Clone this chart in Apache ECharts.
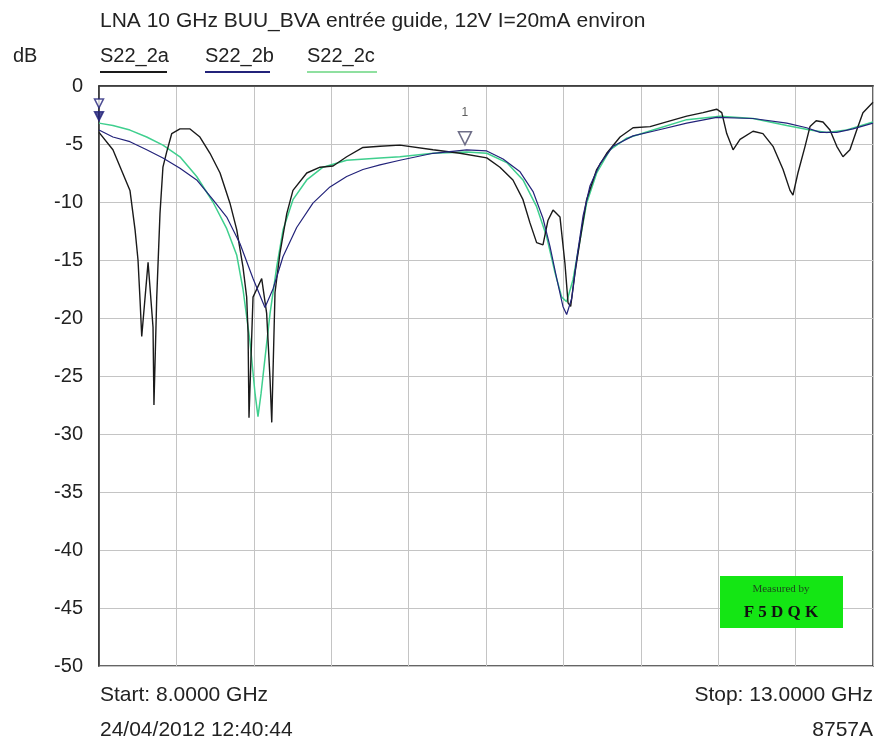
<!DOCTYPE html>
<html><head><meta charset="utf-8">
<script src="https://cdn.jsdelivr.net/npm/echarts@6/dist/echarts.min.js"></script>
<style>html,body{margin:0;padding:0;background:#fff}#c{width:876px;height:742px}</style>
</head><body><div id="c"></div>
<script>
// ---- data (GHz, dB) ----
const seriesNames = ['S22_2a', 'S22_2b', 'S22_2c'];
const yTicks = [0, -5, -10, -15, -20, -25, -30, -35, -40, -45, -50];

const freqA = [8.000,8.090,8.200,8.233,8.252,8.265,8.276,8.317,8.349,8.355,8.373,8.394,8.413,8.437,8.470,8.523,8.588,8.652,8.717,8.782,8.846,8.890,8.930,8.954,8.963,8.969,8.995,9.051,9.083,9.105,9.116,9.137,9.169,9.213,9.253,9.342,9.428,9.512,9.600,9.705,9.815,9.944,10.158,10.332,10.505,10.590,10.674,10.739,10.784,10.827,10.868,10.900,10.933,10.978,11.010,11.030,11.047,11.075,11.118,11.150,11.215,11.280,11.366,11.450,11.560,11.689,11.797,11.902,11.990,12.023,12.055,12.096,12.141,12.225,12.289,12.354,12.419,12.464,12.483,12.515,12.561,12.593,12.633,12.677,12.722,12.766,12.806,12.851,12.895,12.935,13.000];
const dbA = [-4.0,-5.5,-9.0,-12.4,-15.0,-18.4,-21.6,-15.2,-20.8,-27.5,-18.2,-11.0,-7.0,-5.7,-4.1,-3.7,-3.7,-4.4,-5.8,-7.5,-10.1,-12.4,-15.6,-18.2,-21.3,-28.6,-18.2,-16.6,-19.6,-25.3,-29.0,-17.8,-14.4,-11.0,-9.0,-7.5,-7.0,-6.9,-6.1,-5.3,-5.2,-5.1,-5.5,-5.8,-6.2,-7.0,-8.1,-9.8,-11.8,-13.5,-13.7,-11.6,-10.7,-11.3,-15.3,-18.7,-19.0,-16.1,-12.4,-9.8,-7.2,-5.8,-4.4,-3.6,-3.5,-3.0,-2.6,-2.3,-2.0,-2.3,-4.1,-5.5,-4.6,-3.9,-4.1,-5.2,-7.2,-9.0,-9.4,-7.5,-5.2,-3.5,-3.0,-3.1,-3.8,-5.2,-6.1,-5.5,-3.8,-2.3,-1.4];

const freqB = [8.000,8.090,8.200,8.308,8.413,8.523,8.631,8.736,8.825,8.911,8.995,9.072,9.124,9.189,9.277,9.382,9.492,9.600,9.705,9.815,9.944,10.158,10.375,10.505,10.610,10.720,10.804,10.868,10.913,10.957,10.997,11.021,11.054,11.086,11.127,11.172,11.237,11.320,11.450,11.579,11.797,11.990,12.225,12.443,12.571,12.658,12.766,12.871,13.000];
const dbB = [-3.8,-4.4,-4.8,-5.5,-6.2,-7.1,-8.1,-9.8,-11.3,-13.6,-16.6,-19.1,-17.5,-14.7,-12.2,-10.1,-8.7,-7.8,-7.2,-6.8,-6.4,-5.8,-5.5,-5.6,-6.3,-7.4,-9.1,-11.4,-13.8,-16.6,-19.0,-19.7,-18.3,-14.9,-11.2,-8.6,-6.7,-5.2,-4.3,-3.9,-3.2,-2.7,-2.8,-3.2,-3.6,-4.0,-4.0,-3.7,-3.2];

const freqC = [8.000,8.090,8.200,8.308,8.413,8.523,8.631,8.736,8.825,8.890,8.930,8.975,9.008,9.027,9.047,9.072,9.105,9.148,9.189,9.253,9.342,9.447,9.600,9.815,9.944,10.158,10.375,10.505,10.634,10.739,10.827,10.892,10.946,10.989,11.021,11.062,11.107,11.150,11.215,11.301,11.409,11.579,11.797,12.012,12.225,12.443,12.593,12.701,12.830,13.000];
const dbC = [-3.2,-3.4,-3.8,-4.4,-5.1,-6.1,-7.8,-10.0,-12.3,-14.6,-17.5,-22.0,-26.5,-28.5,-26.5,-23.5,-19.6,-15.6,-12.4,-9.8,-8.1,-7.0,-6.4,-6.2,-6.1,-5.8,-5.7,-5.8,-6.6,-8.1,-10.4,-13.0,-16.1,-18.2,-18.6,-16.7,-13.3,-10.1,-7.5,-5.5,-4.5,-3.8,-2.9,-2.6,-2.8,-3.4,-3.8,-4.0,-3.8,-3.1];

const markerFreq = [8.000, 8.000, 10.364];
const markerDb = [-1.5, -2.6, -4.5];

const colors = ['#1a1a1a', '#23237a', '#3fcf8e'];
const FONT = 'Liberation Sans';

function pairs(xs, ys) { return xs.map((x, i) => [x, ys[i]]); }

function txt(x, y, s, size, align) {
  return {type: 'text', x: x, y: y, style: {text: s, font: size + 'px "Liberation Sans"', fill: '#222', align: align || 'left', verticalAlign: 'middle'}};
}

const chart = echarts.init(document.getElementById('c'), null, {renderer: 'canvas'});
chart.setOption({
  animation: false,
  backgroundColor: '#fff',
  grid: {left: 99, right: 3, top: 86, bottom: 76, show: true, borderColor: '#333', borderWidth: 1.5, backgroundColor: 'transparent'},
  xAxis: {
    type: 'value', min: 8, max: 13, interval: 0.5,
    axisLabel: {show: false}, axisTick: {show: false},
    axisLine: {show: true, lineStyle: {color: '#333', width: 1.5}},
    splitLine: {show: true, lineStyle: {color: '#c4c4c4', width: 1}}
  },
  yAxis: {
    type: 'value', min: -50, max: 0, interval: 5,
    axisLabel: {color: '#222', fontFamily: FONT, fontSize: 20, margin: 16,
      formatter: v => yTicks.includes(v) ? String(v) : ''},
    axisTick: {show: false},
    axisLine: {show: true, lineStyle: {color: '#333', width: 1.5}},
    splitLine: {show: true, lineStyle: {color: '#c4c4c4', width: 1}}
  },
  series: [
    {name: seriesNames[0], type: 'line', data: pairs(freqA, dbA), showSymbol: false, lineStyle: {color: colors[0], width: 1.4}, z: 3},
    {name: seriesNames[1], type: 'line', data: pairs(freqB, dbB), showSymbol: false, lineStyle: {color: colors[1], width: 1.2}, z: 4},
    {name: seriesNames[2], type: 'line', data: pairs(freqC, dbC), showSymbol: false, lineStyle: {color: colors[2], width: 1.5}, z: 2},
    {name: 'markers', type: 'scatter', symbol: 'triangle', symbolRotate: 180,
      data: [
        {value: [markerFreq[0], markerDb[0]], symbolSize: 9, itemStyle: {color: '#fff', borderColor: '#23237a', borderWidth: 1.5}},
        {value: [markerFreq[1], markerDb[1]], symbolSize: 9, itemStyle: {color: '#23237a', borderColor: '#23237a', borderWidth: 1.5}},
        {value: [markerFreq[2], markerDb[2]], symbolSize: 13, itemStyle: {color: '#fff', borderColor: '#4a4a6a', borderWidth: 1.5},
          label: {show: true, position: 'top', distance: 12, formatter: '1', fontSize: 12, color: '#333', fontFamily: FONT}}
      ], z: 6}
  ],
  graphic: [
    txt(100, 21, 'LNA 10 GHz BUU_BVA entrée guide, 12V I=20mA environ', 21),
    txt(13, 56, 'dB', 20),
    txt(100, 56, seriesNames[0], 20),
    txt(205, 56, seriesNames[1], 20),
    txt(307, 56, seriesNames[2], 20),
    {type: 'line', shape: {x1: 100, y1: 72, x2: 167, y2: 72}, style: {stroke: colors[0], lineWidth: 2}},
    {type: 'line', shape: {x1: 205, y1: 72, x2: 270, y2: 72}, style: {stroke: colors[1], lineWidth: 2}},
    {type: 'line', shape: {x1: 307, y1: 72, x2: 377, y2: 72}, style: {stroke: '#8fe0a0', lineWidth: 2}},
    txt(100, 695, 'Start: 8.0000 GHz', 21),
    txt(100, 730, '24/04/2012 12:40:44', 21),
    txt(873, 695, 'Stop: 13.0000 GHz', 21, 'right'),
    txt(873, 730, '8757A', 21, 'right'),
    {type: 'rect', shape: {x: 720, y: 576, width: 123, height: 52}, style: {fill: '#14e614'}, z: 10},
    {type: 'text', x: 781, y: 589, style: {text: 'Measured by', font: '11px "Liberation Serif"', fill: '#1c4a1c', align: 'center', verticalAlign: 'middle'}, z: 11},
    {type: 'text', x: 781, y: 613, style: {text: 'F 5 D Q K', font: 'bold 17px "Liberation Serif"', fill: '#111', align: 'center', verticalAlign: 'middle'}, z: 11}
  ]
});
</script></body></html>
